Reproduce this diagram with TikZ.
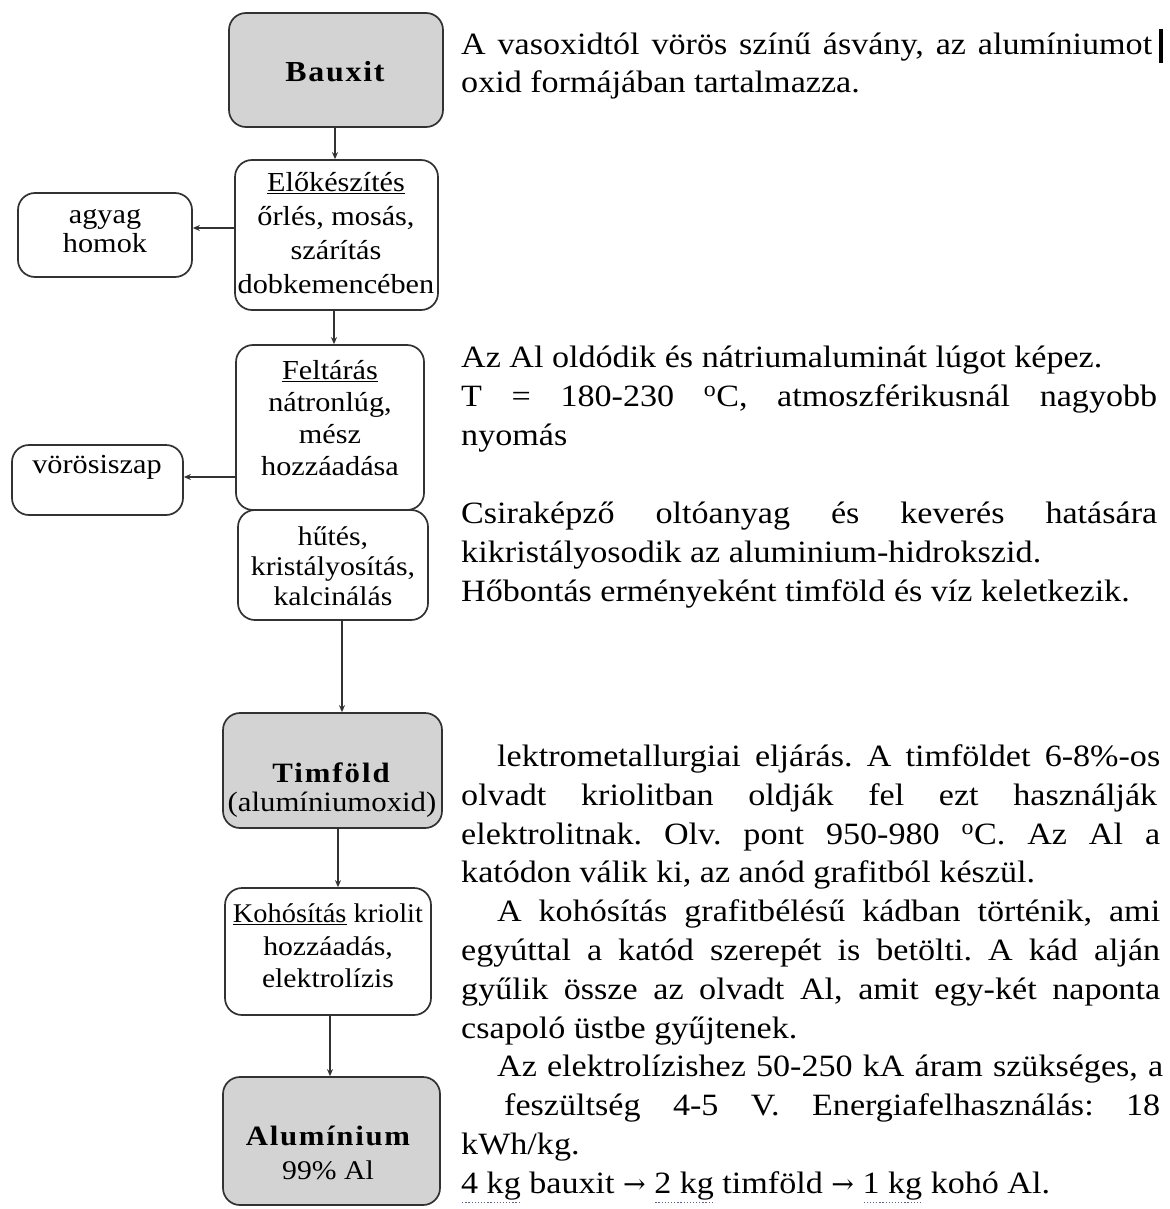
\documentclass[tikz,border=0pt]{standalone}
\usepackage{fontspec}
\setmainfont{Liberation Serif}[FakeStretch=1.1]
\newfontfamily\arrowfont{DejaVu Serif}
\usepackage{graphicx}
\usetikzlibrary{arrows.meta}
\definecolor{boxgray}{RGB}{211,211,211}
\definecolor{edgec}{RGB}{50,50,50}
\definecolor{dotc}{RGB}{90,100,140}
\newlength\natw
\newcommand\fitj[2]{\settowidth\natw{#2}\ifdim\natw>#1\relax\resizebox{#1}{\height}{#2}\else\makebox[#1][s]{#2}\fi}
\newcommand\dotul[1]{\leavevmode\setbox0=\hbox{#1}\rlap{\raisebox{-10pt}{\textcolor{dotc}{\hbox to \wd0{\xleaders\hbox to 3pt{\hss\rule{1.3pt}{1.3pt}\hss}\hfill}}}}\box0\relax}
\newcommand\rarr{{\arrowfont\fontsize{27}{30}\selectfont →}}
\frenchspacing
\begin{document}
\begin{tikzpicture}[x=1pt,y=-1pt,
  box/.style={draw=edgec,line width=1.7pt,rounded corners=17pt,inner sep=0pt},
  gbox/.style={box,fill=boxgray},
  wbox/.style={box,fill=white},
  arr/.style={draw=edgec,line width=1.4pt,-{Stealth[length=7pt,width=6pt]}},
  body/.style={anchor=base west,inner sep=0pt,font=\fontsize{31}{38}\selectfont},
  lbl/.style={align=center,inner sep=0pt},
]
\path[use as bounding box,fill=white] (0,0) rectangle (1169,1209);

% boxes
\node[gbox,minimum width=214pt,minimum height=114pt] (bauxit) at (336,70) {};
\node[wbox,minimum width=203pt,minimum height=150pt] (elo) at (336.5,235) {};
\node[wbox,minimum width=174pt,minimum height=84pt] (agyag) at (105,235) {};
\node[wbox,minimum width=188pt,minimum height=165pt] (felt) at (330,427.5) {};
\node[wbox,minimum width=171pt,minimum height=70pt] (voros) at (97.5,480) {};
\node[wbox,minimum width=190pt,minimum height=110pt] (hutes) at (333,565) {};
\node[gbox,minimum width=219pt,minimum height=115pt] (timf) at (332.5,770.5) {};
\node[wbox,minimum width=206pt,minimum height=127pt] (koho) at (328,951.5) {};
\node[gbox,minimum width=217pt,minimum height=128pt] (alu) at (331.5,1141) {};

% box texts
\node[lbl,font=\bfseries\fontsize{29}{32}\selectfont\addfontfeatures{LetterSpace=6}] (bauxitT) at (335,72) {Bauxit};
\node[lbl,font=\fontsize{27.5}{34}\selectfont] (eloT) at (336,233) {\underline{Előkészítés}\\őrlés, mosás,\\szárítás\\dobkemencében};
\node[lbl,font=\fontsize{27.5}{29}\selectfont] (agyagT) at (105,231) {agyag\\homok};
\node[lbl,font=\fontsize{27.5}{32}\selectfont] (feltT) at (330,418) {\underline{Feltárás}\\nátronlúg,\\mész\\hozzáadása};
\node[lbl,font=\fontsize{27.5}{30}\selectfont] (vorosT) at (97,467) {vörösiszap};
\node[lbl,font=\fontsize{27}{30}\selectfont] (hutesT) at (333,566) {hűtés,\\kristályosítás,\\kalcinálás};
\node[lbl,font=\bfseries\fontsize{28}{30}\selectfont\addfontfeatures{LetterSpace=7}] (timfA) at (331,773) {Timföld};
\node[lbl,font=\fontsize{28}{30}\selectfont] (timfB) at (332,805) {(alumíniumoxid)};
\node[lbl,font=\fontsize{27}{32.5}\selectfont] (kohoT) at (328,946) {\resizebox{190pt}{\height}{\underline{Kohósítás} kriolit}\\hozzáadás,\\elektrolízis};
\node[lbl,font=\bfseries\fontsize{28}{30}\selectfont\addfontfeatures{LetterSpace=6}] (aluA) at (328,1136) {Alumínium};
\node[lbl,font=\fontsize{27}{30}\selectfont] (aluB) at (328,1170) {99\% Al};

% connectors
\coordinate (ax1) at (335,0);
\coordinate (ax2) at (334,0);
\coordinate (ax3) at (342,0);
\coordinate (ax4) at (338,0);
\coordinate (ax5) at (330,0);
\coordinate (ay1) at (0,228);
\coordinate (ay2) at (0,477);
\draw[arr] (bauxit.south -| ax1) -- (elo.north -| ax1);
\draw[arr] (elo.west |- ay1) -- (agyag.east |- ay1);
\draw[arr] (elo.south -| ax2) -- (felt.north -| ax2);
\draw[arr] (felt.west |- ay2) -- (voros.east |- ay2);
\draw[arr] (hutes.south -| ax3) -- (timf.north -| ax3);
\draw[arr] (timf.south -| ax4) -- (koho.north -| ax4);
\draw[arr] (koho.south -| ax5) -- (alu.north -| ax5);

% right-hand text
\node[body] (l1) at (461,55) {\fitj{691pt}{A vasoxidtól vörös színű ásvány, az alumíniumot}};
\node[body] (l2) at (461,93) {oxid formájában tartalmazza.};
\node[body] (l3) at (461,367) {Az Al oldódik és nátriumaluminát lúgot képez.};
\node[body] (l4) at (461,406) {\fitj{696pt}{T = 180-230 \textsuperscript{o}C, atmoszférikusnál nagyobb}};
\node[body] (l5) at (461,445) {nyomás};
\node[body] (l6) at (461,523) {\fitj{696pt}{Csiraképző oltóanyag és keverés hatására}};
\node[body] (l7) at (461,562) {\resizebox{580pt}{\height}{kikristályosodik az aluminium-hidrokszid.}};
\node[body] (l8) at (461,601) {Hőbontás erményeként timföld és víz keletkezik.};
\node[body] (l9) at (497,766) {\fitj{663pt}{lektrometallurgiai eljárás. A timföldet 6-8\%-os}};
\node[body] (l10) at (461,805) {\fitj{696pt}{olvadt kriolitban oldják fel ezt használják}};
\node[body] (l11) at (461,844) {\fitj{699pt}{elektrolitnak. Olv. pont 950-980 \textsuperscript{o}C. Az Al a}};
\node[body] (l12) at (461,882) {katódon válik ki, az anód grafitból készül.};
\node[body] (l13) at (497,921) {\fitj{663pt}{A kohósítás grafitbélésű kádban történik, ami}};
\node[body] (l14) at (461,960) {\fitj{699pt}{egyúttal a katód szerepét is betölti. A kád alján}};
\node[body] (l15) at (461,999) {\fitj{699pt}{gyűlik össze az olvadt Al, amit egy-két naponta}};
\node[body] (l16) at (461,1038) {csapoló üstbe gyűjtenek.};
\node[body] (l17) at (497,1076) {\fitj{666pt}{Az elektrolízishez 50-250 kA áram szükséges, a}};
\node[body] (l18) at (504,1115) {\fitj{656pt}{feszültség 4-5 V. Energiafelhasználás: 18}};
\node[body] (l19) at (461,1154) {kWh/kg.};
\node[body] (l20) at (461,1193) {\dotul{4 kg} bauxit \rarr{} \dotul{2 kg} timföld \rarr{} \dotul{1 kg} kohó Al.};

% text cursor
\draw[line width=3.5pt,black] (1161,29) -- (1161,63);
\end{tikzpicture}
\end{document}
